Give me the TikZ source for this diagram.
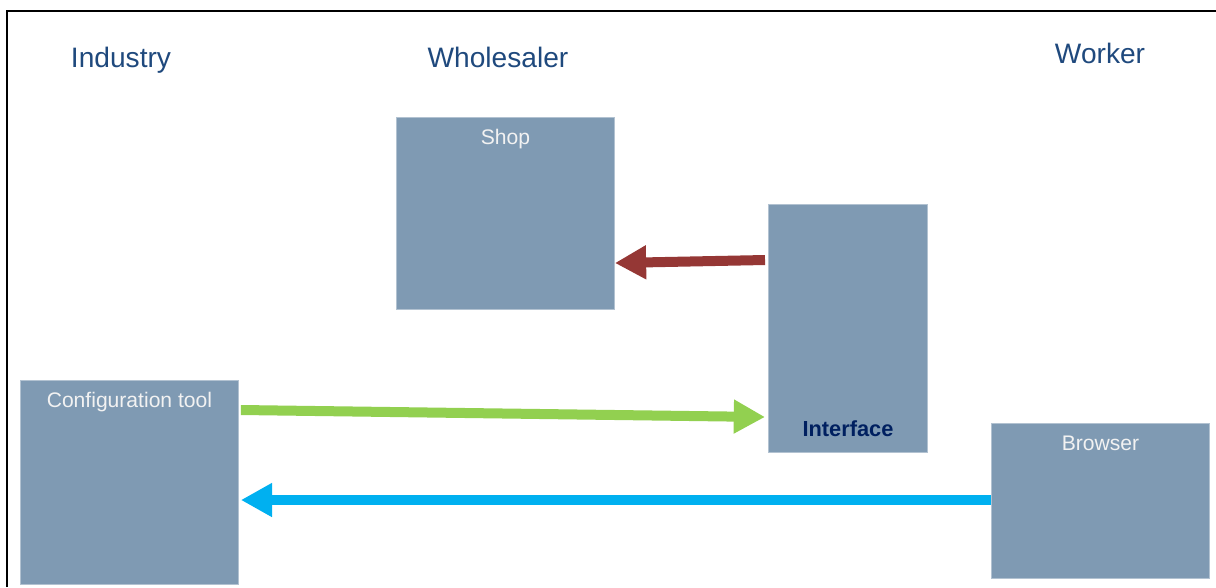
\documentclass[tikz,border=0pt]{standalone}
\usepackage{fontspec}
\setmainfont{Liberation Sans}
\usepackage{tikz}
\usetikzlibrary{arrows.meta,calc}

\definecolor{boxfill}{RGB}{127,154,179}
\definecolor{titleblue}{RGB}{31,73,125}
\definecolor{navy}{RGB}{0,32,96}
\definecolor{arrowred}{RGB}{149,55,53}
\definecolor{arrowgreen}{RGB}{146,208,80}
\definecolor{arrowblue}{RGB}{0,176,240}

\tikzset{
  title/.style={text=titleblue, font=\fontsize{20}{24}\selectfont, inner sep=0pt, anchor=base},
  block/.style={rectangle, fill=boxfill, draw=boxfill!60!white, line width=0.6pt,
                anchor=north west, inner sep=0pt},
  blocklabel/.style={anchor=base, text=white!95!black, font=\fontsize{15}{18}\selectfont, inner sep=0pt},
  flow/.style={line width=0.25cm, -{Triangle[width=0.8cm,length=0.78cm]}},
}

\begin{document}
\begin{tikzpicture}[x=0.025cm, y=-0.025cm]
                \useasboundingbox (0,0) rectangle (1216,587);

                % Frame (only top and left edges are visible)
                \draw[line width=1.5pt] (7,587) -- (7,11) -- (1216,11);

                % Column titles
                \foreach \name/\x/\y/\txt in {industry/121/67/Industry,
                                             wholesaler/498/67/Wholesaler,
                                             worker/1100/63/Worker}{
                    \node[title] (\name) at (\x,\y) {\txt};
                }

                % Blocks
                \node[block, minimum width=5.45cm, minimum height=4.8cm,
                      label={[blocklabel, yshift=-19.5pt]north:Shop}] (shop) at (396,117) {};
                \node[block, minimum width=3.975cm, minimum height=6.2cm,
                      label={[blocklabel, yshift=11.5pt, text=navy, font=\fontsize{15.5}{18}\selectfont\bfseries]south:Interface}] (iface) at (768,204) {};
                \node[block, minimum width=5.45cm, minimum height=5.1cm,
                      label={[blocklabel, yshift=-19.5pt]north:Configuration tool}] (config) at (20,380) {};
                \node[block, minimum width=5.45cm, minimum height=3.875cm,
                      label={[blocklabel, yshift=-19.5pt]north:Browser}] (browser) at (991,423) {};

                % Data flows
                \draw[flow, arrowred] ($(iface.north west)+(-3,56)$) -- ($(shop.north east)+(0,146)$);
                \draw[flow, arrowgreen] ($(config.north east)+(2,30)$) -- ($(iface.north west)+(-3,213)$);
                \draw[flow, arrowblue] ($(browser.north west)+(0,77)$) -- ($(config.north east)+(2,120)$);

            \end{tikzpicture}
\end{document}
